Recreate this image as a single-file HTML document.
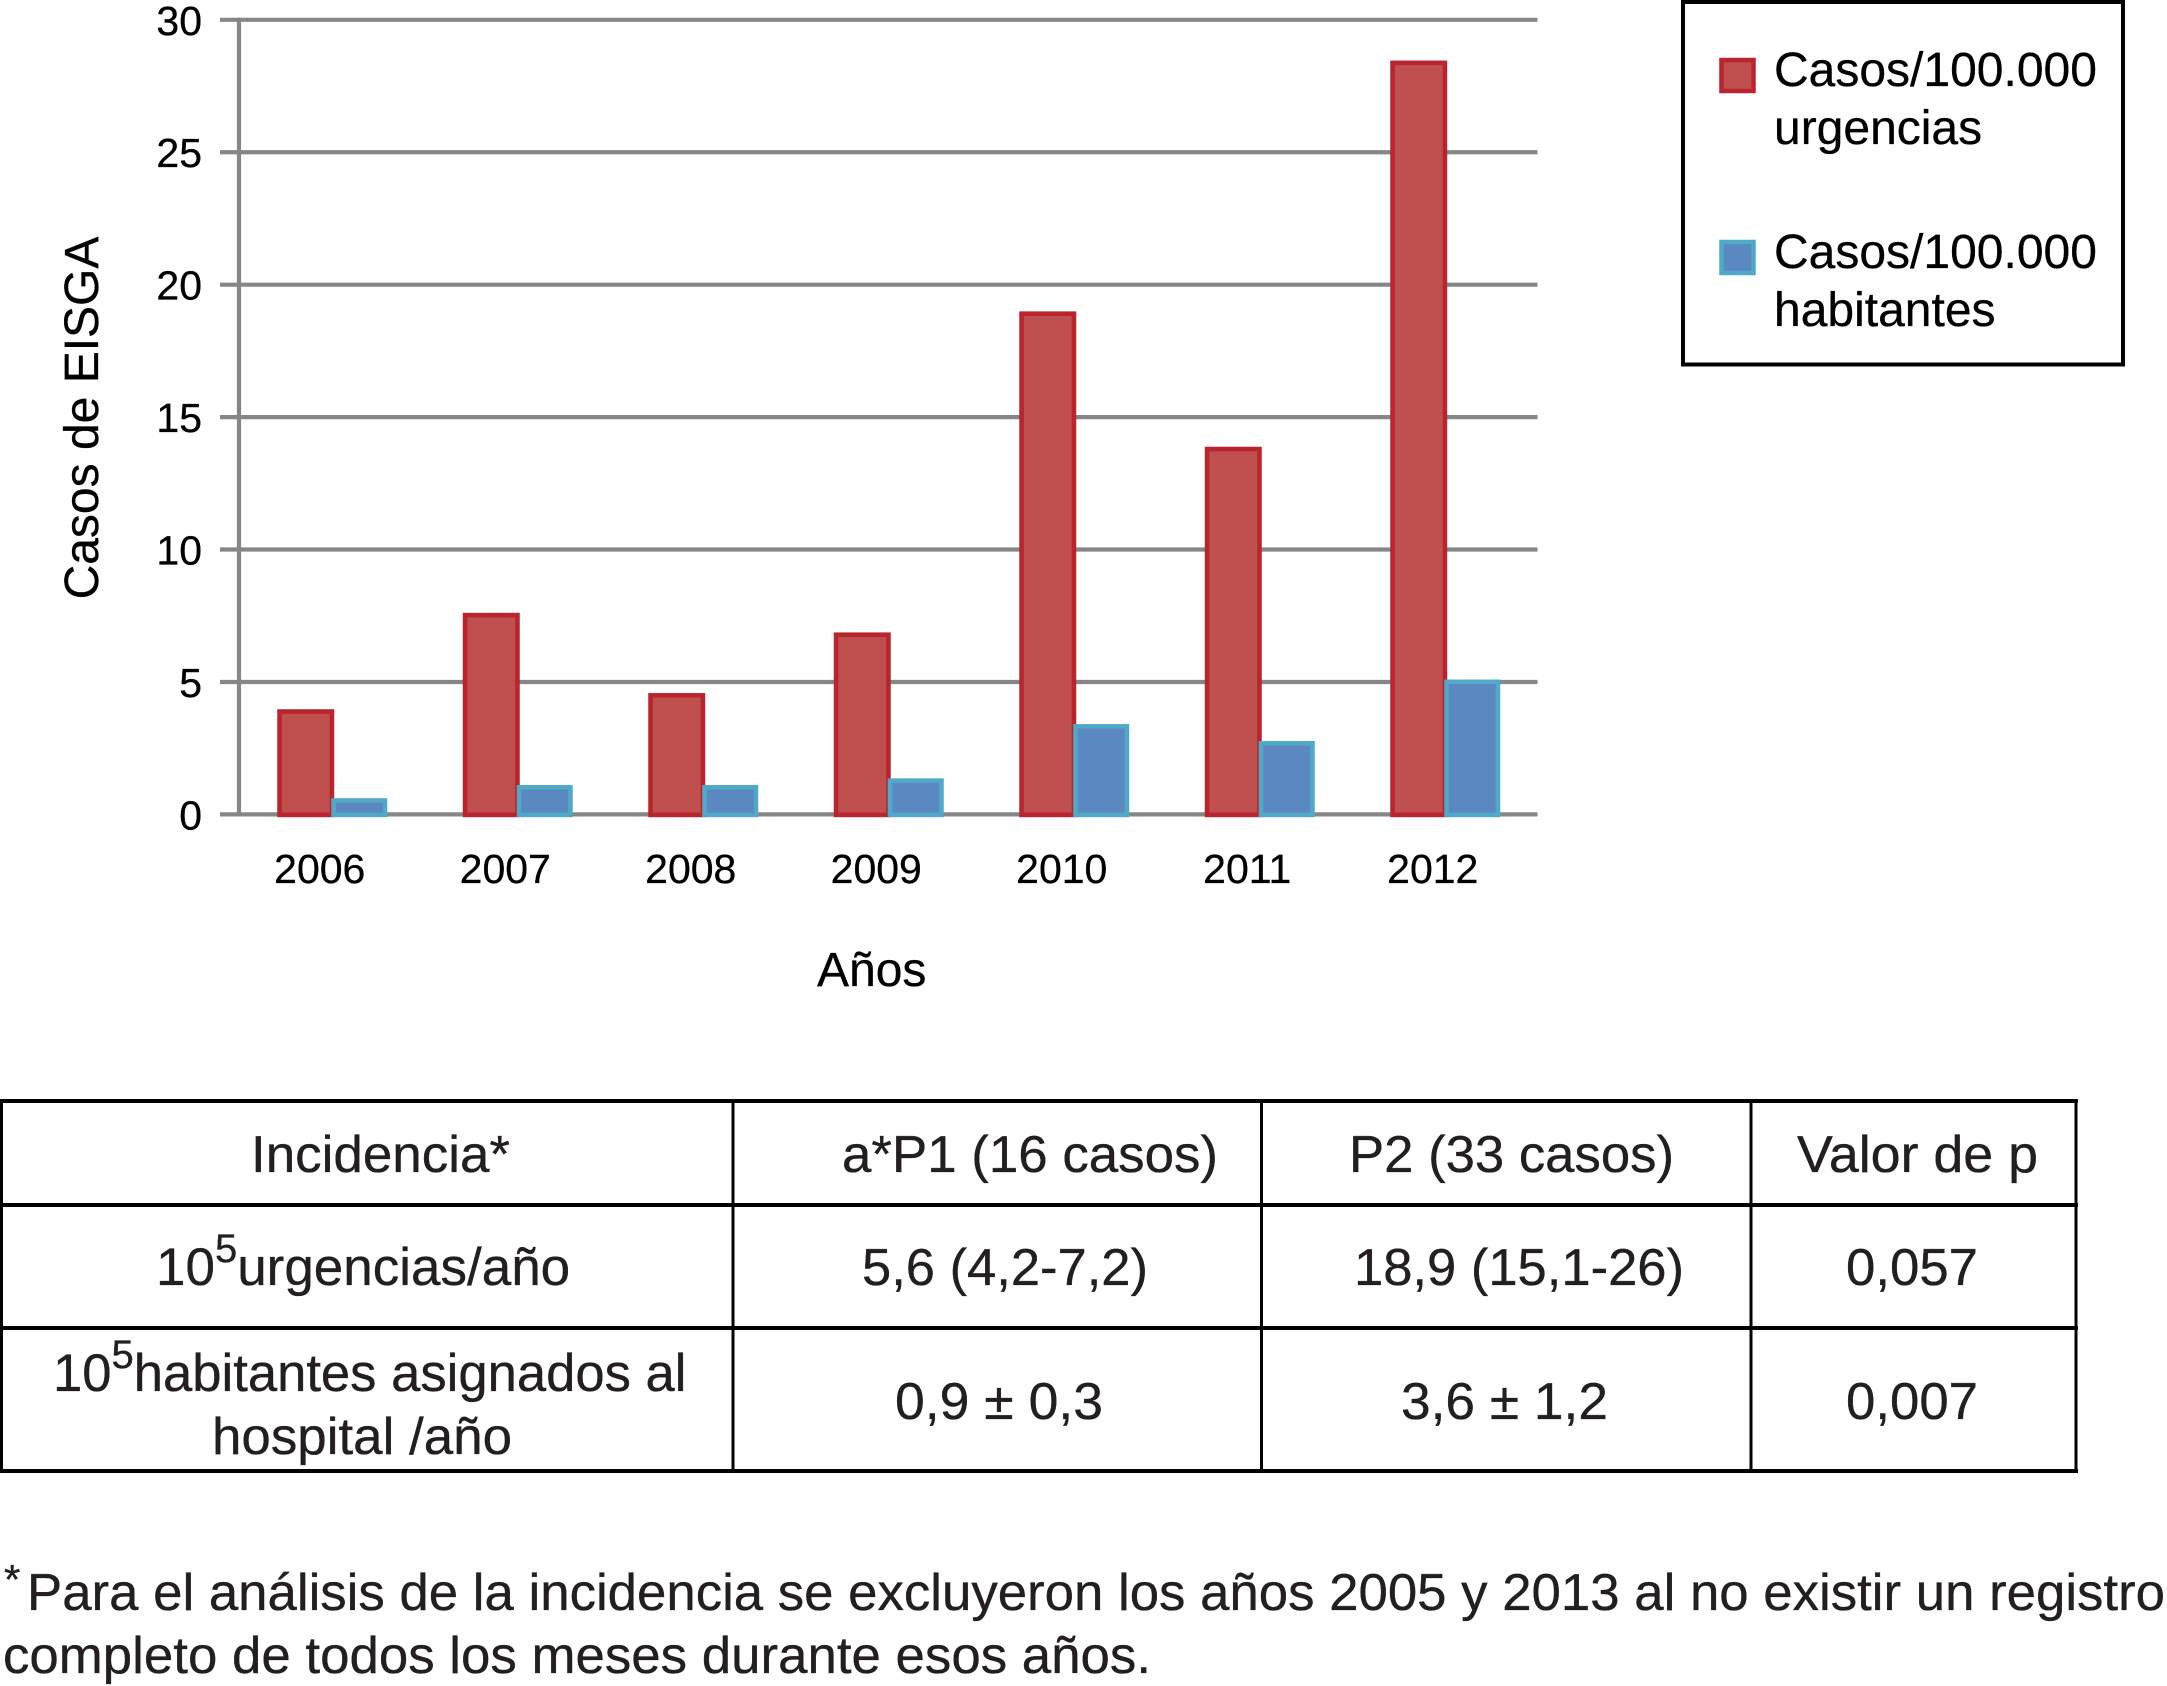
<!DOCTYPE html>
<html lang="es">
<head>
<meta charset="utf-8">
<title>Casos de EISGA</title>
<style>
html,body{margin:0;padding:0;background:#fff;}
#figure{display:block;width:2167px;height:1686px;}
text{font-family:"Liberation Sans",Arial,sans-serif;}
.chart-text{fill:#000;stroke:#000;stroke-width:0.3px;}
.tbl{font-size:52px;fill:#231f20;stroke:#231f20;stroke-width:0.35px;}
.rule{stroke:#000;stroke-width:4;}
.rule-v{stroke:#000;stroke-width:3;}
</style>
</head>
<body>
<svg id="figure" xmlns="http://www.w3.org/2000/svg" width="2167" height="1686" viewBox="0 0 2167 1686">
  <rect width="2167" height="1686" fill="#fff"/>
  <g id="chart"></g>

  <text class="chart-text" transform="translate(98,418) rotate(-90)" text-anchor="middle" font-size="48">Casos de EISGA</text>
  <text class="chart-text" x="817" y="986" font-size="48">Años</text>

  <g>
    <rect x="1683" y="2" width="440" height="362.5" fill="#fff" stroke="#000" stroke-width="4"/>
    <rect x="1721.5" y="60" width="32" height="31" fill="#c0504d" stroke="#b9252e" stroke-width="4.5"/>
    <text class="chart-text" font-size="48"><tspan x="1774" y="86">Casos/100.000</tspan><tspan x="1774" y="144">urgencias</tspan></text>
    <rect x="1721.5" y="242" width="32" height="31" fill="#5b88c0" stroke="#4fa9c7" stroke-width="4.5"/>
    <text class="chart-text" font-size="48"><tspan x="1774" y="268">Casos/100.000</tspan><tspan x="1774" y="326">habitantes</tspan></text>
  </g>

  <g>
    <line class="rule" x1="0" x2="2078" y1="1101" y2="1101"/>
    <line class="rule" x1="0" x2="2078" y1="1205" y2="1205"/>
    <line class="rule" x1="0" x2="2078" y1="1328" y2="1328"/>
    <line class="rule" x1="0" x2="2078" y1="1471" y2="1471"/>
    <line class="rule-v" x1="1.5" x2="1.5" y1="1100" y2="1472"/>
    <line class="rule-v" x1="733" x2="733" y1="1100" y2="1472"/>
    <line class="rule-v" x1="1261.5" x2="1261.5" y1="1100" y2="1472"/>
    <line class="rule-v" x1="1751" x2="1751" y1="1100" y2="1472"/>
    <line class="rule-v" x1="2076" x2="2076" y1="1100" y2="1472"/>

    <text class="tbl" x="251" y="1172" textLength="259" lengthAdjust="spacingAndGlyphs">Incidencia*</text>
    <text class="tbl" x="842" y="1172" textLength="376" lengthAdjust="spacingAndGlyphs">a*P1 (16 casos)</text>
    <text class="tbl" x="1349" y="1172" textLength="325" lengthAdjust="spacingAndGlyphs">P2 (33 casos)</text>
    <text class="tbl" x="1797" y="1172" textLength="241" lengthAdjust="spacingAndGlyphs">Valor de p</text>

    <text class="tbl" x="156" y="1285" style="font-size:53px">10<tspan style="font-size:40px" dy="-23">5</tspan><tspan dy="23">urgencias/año</tspan></text>
    <text class="tbl" x="862" y="1285" textLength="286" lengthAdjust="spacingAndGlyphs">5,6 (4,2-7,2)</text>
    <text class="tbl" x="1354" y="1285" textLength="330" lengthAdjust="spacingAndGlyphs">18,9 (15,1-26)</text>
    <text class="tbl" x="1846" y="1285" textLength="132" lengthAdjust="spacingAndGlyphs">0,057</text>

    <text class="tbl" x="53" y="1391" style="font-size:52.6px">10<tspan style="font-size:40px" dy="-23">5</tspan><tspan dy="23">habitantes asignados al</tspan></text>
    <text class="tbl" x="212" y="1454" textLength="300" lengthAdjust="spacingAndGlyphs">hospital /año</text>
    <text class="tbl" x="895" y="1419" textLength="208" lengthAdjust="spacingAndGlyphs">0,9 ± 0,3</text>
    <text class="tbl" x="1401" y="1419" textLength="207" lengthAdjust="spacingAndGlyphs">3,6 ± 1,2</text>
    <text class="tbl" x="1846" y="1419" textLength="132" lengthAdjust="spacingAndGlyphs">0,007</text>
  </g>

  <g>
    <text class="tbl" x="4" y="1594" style="font-size:42px">*</text>
    <text class="tbl" x="27" y="1610" textLength="2138" lengthAdjust="spacingAndGlyphs">Para el análisis de la incidencia se excluyeron los años 2005 y 2013 al no existir un registro</text>
    <text class="tbl" x="3" y="1673" textLength="1148" lengthAdjust="spacingAndGlyphs">completo de todos los meses durante esos años.</text>
  </g>
</svg>
<script>
const years = ["2006", "2007", "2008", "2009", "2010", "2011", "2012"];
const urgencias = [3.96, 7.6, 4.57, 6.86, 18.98, 13.87, 28.45];
const habitantes = [0.6, 1.1, 1.1, 1.35, 3.4, 2.76, 5.08];
const yTicks = [0, 5, 10, 15, 20, 25, 30];

const NS = "http://www.w3.org/2000/svg";
const chart = document.getElementById("chart");
const plot = { left: 239, right: 1537.5, top: 19.8, bottom: 814.4, yMax: 30 };

function yScale(v) {
  return plot.bottom - (v / plot.yMax) * (plot.bottom - plot.top);
}
function bandCenter(i) {
  const band = (plot.right - plot.left) / years.length;
  return plot.left + band * (i + 0.5);
}
function make(tag, attrs) {
  const el = document.createElementNS(NS, tag);
  for (const k in attrs) el.setAttribute(k, attrs[k]);
  chart.appendChild(el);
  return el;
}

yTicks.forEach(function (t) {
  const y = yScale(t);
  const grid = make("line", { x1: 220, x2: plot.right, y1: y, y2: y, stroke: "#868686", "stroke-width": 4.2 });
  
  
  const label = make("text", { x: 202, y: y + 15, "text-anchor": "end", "font-size": 41, fill: "#000", stroke: "#000", "stroke-width": 0.3 });
  label.textContent = String(t);
  
  
});

const yAxis = make("line", { x1: plot.left, x2: plot.left, y1: plot.top - 2, y2: plot.bottom + 2, stroke: "#868686", "stroke-width": 4.2 });



years.forEach(function (yr, i) {
  const c = bandCenter(i);

  const redTop = yScale(urgencias[i]) + 2;
  const red = make("rect", { x: c - 52.2, y: redTop, width: 52.4, height: plot.bottom - redTop + 0.5, fill: "#c0504d", stroke: "#b9252e", "stroke-width": 4.6 });
  
  

  const blueTop = yScale(habitantes[i]) + 2;
  const blue = make("rect", { x: c + 1.8, y: blueTop, width: 51.4, height: plot.bottom - blueTop + 0.5, fill: "#5b88c0", stroke: "#4fa9c7", "stroke-width": 4.6 });
  
  

  const label = make("text", { x: c - 12, y: 883, "text-anchor": "middle", "font-size": 41, fill: "#000", stroke: "#000", "stroke-width": 0.3 });
  label.textContent = yr;
  
  
});
</script>
</body>
</html>
